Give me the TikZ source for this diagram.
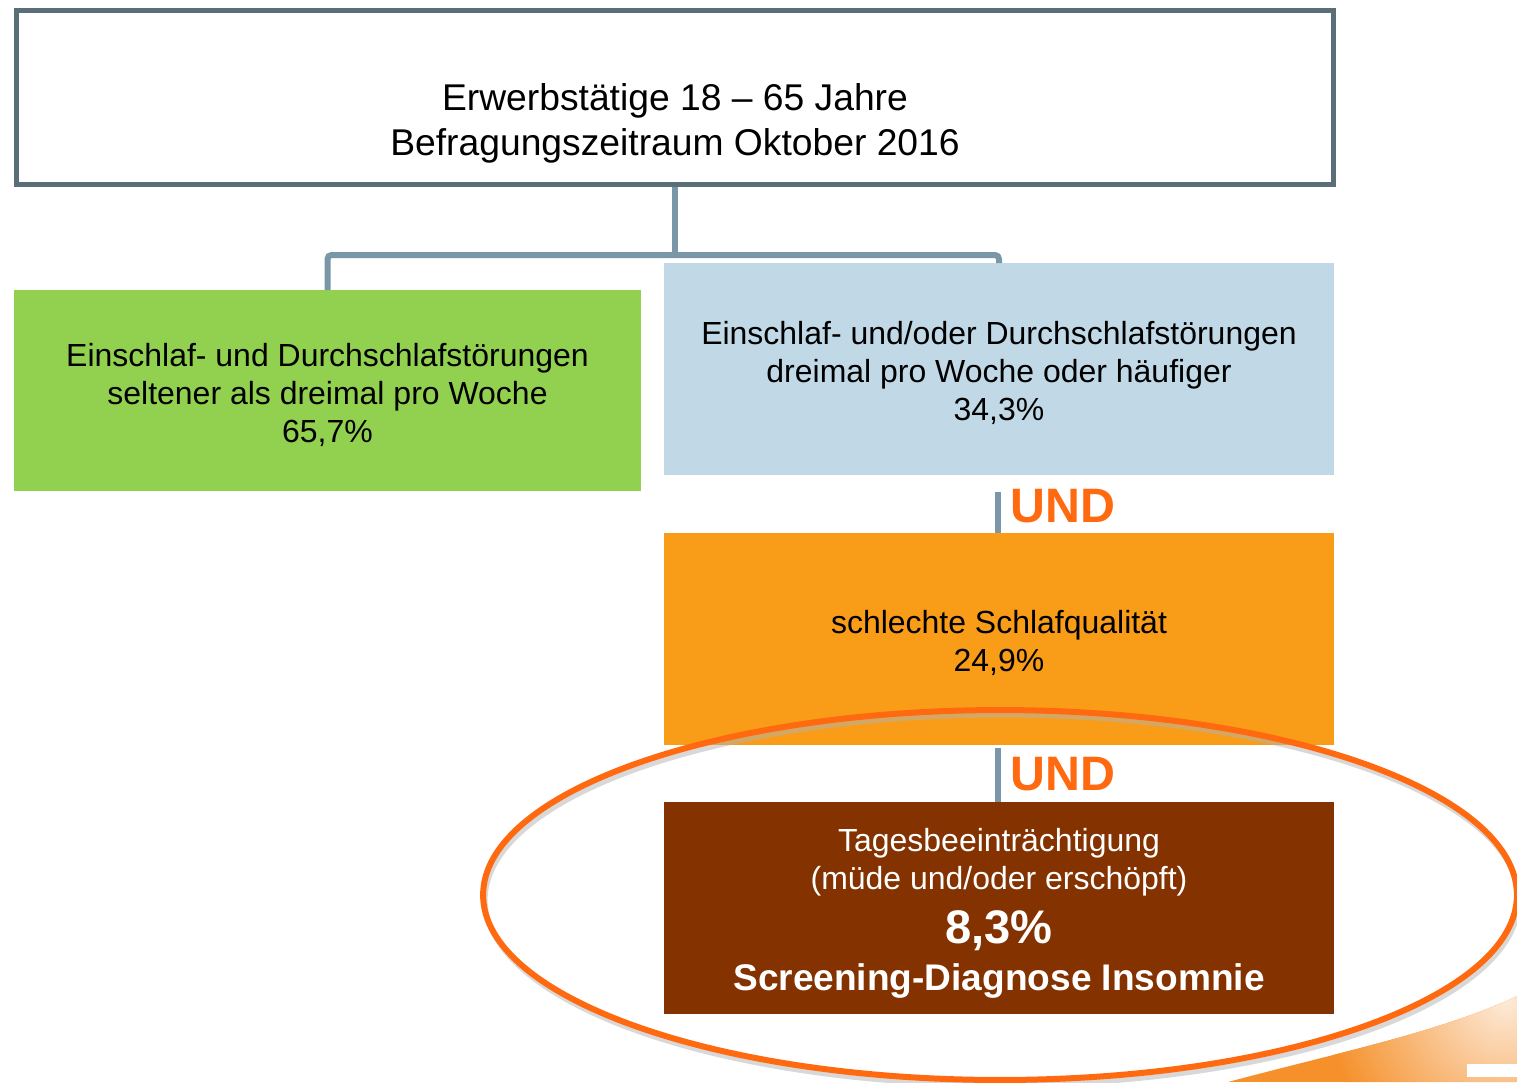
\documentclass[tikz,border=0pt]{standalone}
\usepackage{fontspec}
\setmainfont{Liberation Sans}
\definecolor{frame}{HTML}{5A6E78}
\definecolor{conn}{HTML}{7A97A8}
\definecolor{boxgreen}{HTML}{92D050}
\definecolor{boxblue}{HTML}{C1D9E6}
\definecolor{boxorange}{HTML}{F99C18}
\definecolor{boxbrown}{HTML}{833200}
\definecolor{und}{HTML}{FF6A10}
\definecolor{swooshA}{HTML}{F5902A}
\definecolor{swooshB}{HTML}{FDEAD8}
\begin{document}
\begin{tikzpicture}[x=0.02cm,y=-0.02cm,
  boxtext/.style={font=\fontsize{18.2}{21.6}\selectfont, align=center, inner sep=0pt},
  flatbox/.style={minimum width=13.4cm, minimum height=4.24cm, outer sep=0pt, inner sep=0pt},
  conline/.style={draw=conn, line width=0.12cm},
  undlabel/.style={text=und, font=\fontsize{27.5}{30}\selectfont\bfseries, anchor=west, inner sep=0pt}
]
\useasboundingbox (0,0) rectangle (1517,1082);

% swoosh bottom right
\begin{scope}
  \clip (1228,1082) .. controls (1340,1052) and (1440,1032) .. (1517,996) -- (1517,1082) -- cycle;
  \fill[swooshA] (1200,980) rectangle (1517,1082);
  \shade[inner color=swooshB, outer color=swooshA] (1505,1000) circle (3.6cm);
\end{scope}
\fill[white] (1467,1064) rectangle (1517,1077);

% top box
\node[draw=frame, line width=0.1cm, fill=white, minimum width=26.36cm, minimum height=3.5cm, inner sep=0pt] (top) at (675,97.5) {};
\node[boxtext, font=\fontsize{21.2}{25.6}\selectfont] (toptext) at (675,123.5)
  {Erwerbstätige 18 – 65 Jahre\\Befragungszeitraum Oktober 2016};

% level 2
\node[fill=boxgreen, minimum width=12.54cm, minimum height=4.02cm, inner sep=0pt, outer sep=0pt] (green) at (327.5,390.5) {};
\node[boxtext] (greentext) at (327.5,395)
  {Einschlaf- und Durchschlafstörungen\\seltener als dreimal pro Woche\\65,7\%};
\node[flatbox, fill=boxblue] (blue) at (999,369) {};
\node[boxtext] (bluetext) at (999,373)
  {Einschlaf- und/oder Durchschlafstörungen\\dreimal pro Woche oder häufiger\\34,3\%};

% connectors
\coordinate (j) at (675,255);
\draw[conline] (top.south) -- (j);
\draw[conline, rounded corners=0.08cm] (j) -| (green.north);
\draw[conline, rounded corners=0.08cm] (j) -| (blue.north);

% orange
\node[flatbox, fill=boxorange] (orange) at (999,639) {};
\node[boxtext] (orangetext) at (999,643) {schlechte Schlafqualität\\24,9\%};

% brown
\node[flatbox, fill=boxbrown] (brown) at (999,908) {};
\node[boxtext, text=white] (browntext) at (999,862) {Tagesbeeinträchtigung\\(müde und/oder erschöpft)};
\node[text=white, font=\fontsize{26.8}{30}\selectfont\bfseries, inner sep=0pt] (pct) at (999,931) {8,3\%};
\node[text=white, font=\fontsize{21.1}{24}\selectfont\bfseries, inner sep=0pt] (diag) at (999,981) {Screening-Diagnose Insomnie};

\draw[conline, line width=0.11cm, shorten <=0.34cm] (blue.south -| 998,0) -- (orange.north -| 998,0);
\draw[conline, line width=0.11cm, shorten <=0.06cm] (orange.south -| 998,0) -- (brown.north -| 998,0);
\node[undlabel] (und1) at (1010,506) {UND};
\node[undlabel] (und2) at (1010,774) {UND};

% highlight ellipse with shadow
\draw[black!30, line width=0.1cm, opacity=0.5] (1002,900) ellipse [x radius=10.34cm, y radius=3.7cm];
\draw[und, line width=0.12cm] (1000,895) ellipse [x radius=10.34cm, y radius=3.7cm];
\end{tikzpicture}
\end{document}
